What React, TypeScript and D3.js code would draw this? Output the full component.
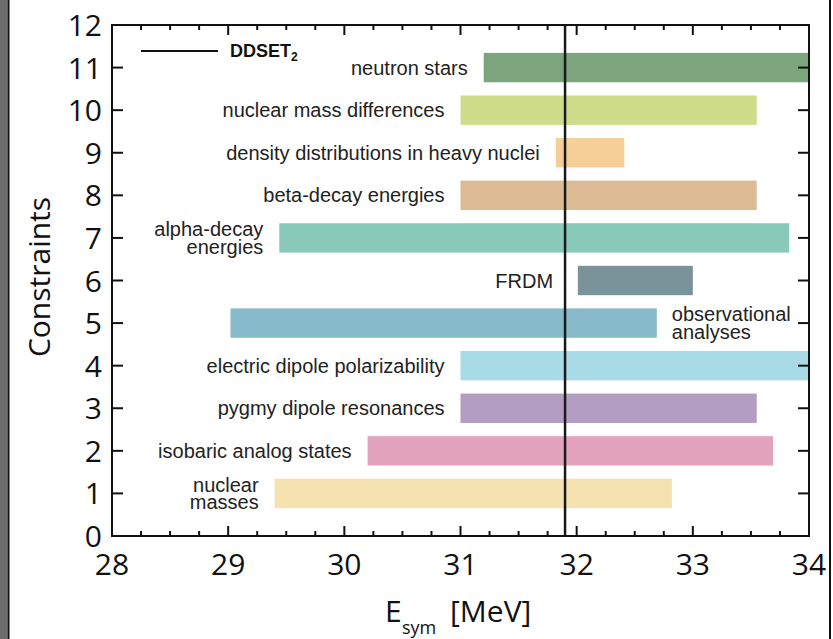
import React from "react";
import * as d3 from "d3";

const constraintNames = [
  ["nuclear", "masses"],
  ["isobaric analog states"],
  ["pygmy dipole resonances"],
  ["electric dipole polarizability"],
  ["observational", "analyses"],
  ["FRDM"],
  ["alpha-decay", "energies"],
  ["beta-decay energies"],
  ["density distributions in heavy nuclei"],
  ["nuclear mass differences"],
  ["neutron stars"],
];
const constraintLevels = [1, 2, 3, 4, 5, 6, 7, 8, 9, 10, 11];
const lowValues = [29.4, 30.2, 31.0, 31.0, 29.02, 32.01, 29.44, 31.0, 31.82, 31.0, 31.2];
const highValues = [32.82, 33.69, 33.55, 34.0, 32.69, 33.0, 33.83, 33.55, 32.41, 33.55, 34.0];
const barColors = [
  "#f5e2b1", "#e4a3bc", "#b39dc3", "#a9dbe6", "#88bbca", "#7a9398",
  "#89c9ba", "#dcba93", "#f5cf96", "#cfdd8a", "#7ca57d",
];
const labelRight = [false, false, false, false, true, false, false, false, false, false, false];
const xTickValues = [28, 29, 30, 31, 32, 33, 34];
const yTickValues = [0, 1, 2, 3, 4, 5, 6, 7, 8, 9, 10, 11, 12];
const ddsetValue = 31.9;

export default function App() {
  const W = 833, H = 639;
  const x = d3.scaleLinear().domain([28, 34]).range([112, 809]);
  const y = d3.scaleLinear().domain([0, 12]).range([536, 25]);
  const minor = d3.range(28, 34.001, 0.25).filter((v) => Math.abs(v - Math.round(v)) > 1e-6);
  const barH = Math.abs(y(0.69) - y(0));
  const tickFont = "'Open Sans', 'Noto Sans', sans-serif";
  const labFont = "'Liberation Sans', Arial, sans-serif";
  const fs = 20;

  return (
    <svg width={W} height={H} style={{ position: "absolute", left: 0, top: 0, background: "#fff" }}>
      <rect x={0} y={0} width={W} height={H} fill="#fff" />
      <rect x={0} y={0} width={7.5} height={H} fill="#6c6c6c" />
      <line x1={8.5} x2={8.5} y1={0} y2={H} stroke="#111" strokeWidth={2} />
      <line x1={830} x2={830} y1={0} y2={H} stroke="#111" strokeWidth={2} />

      {constraintLevels.map((lv, i) => {
        const x0 = x(lowValues[i]);
        const x1 = x(highValues[i]);
        return (
          <rect key={"b" + i} x={x0} y={y(lv) - barH / 2} width={x1 - x0} height={barH} fill={barColors[i]} />
        );
      })}

      {constraintLevels.map((lv, i) => {
        const lines = constraintNames[i];
        const right = labelRight[i];
        let tx = right ? x(highValues[i]) + 15 : x(lowValues[i]) - 16;
        if (lines[0] === "FRDM") tx = x(ddsetValue) - 12;
        const lh = 17.5;
        const cy = y(lv);
        return lines.map((s, j) => (
          <text key={"l" + i + "_" + j} x={tx} y={cy + 7 + (j - (lines.length - 1) / 2) * lh}
            fontFamily={labFont} fontSize={fs} fill="#222" textAnchor={right ? "start" : "end"}>
            {s}
          </text>
        ));
      })}

      <line x1={x(ddsetValue)} x2={x(ddsetValue)} y1={y(12)} y2={y(0)} stroke="#1a1a1a" strokeWidth={2.5} />

      {/* frame */}
      <rect x={x(28)} y={y(12)} width={x(34) - x(28)} height={y(0) - y(12)} fill="none" stroke="#111" strokeWidth={2} />

      {/* x ticks */}
      {xTickValues.map((v) => (
        <g key={"xt" + v}>
          <line x1={x(v)} x2={x(v)} y1={y(0)} y2={y(0) - 10} stroke="#111" strokeWidth={2} />
          <line x1={x(v)} x2={x(v)} y1={y(12)} y2={y(12) + 10} stroke="#111" strokeWidth={2} />
          <text x={x(v)} y={575} textAnchor="middle" fontFamily={tickFont} fontSize={30} fill="#111">{v}</text>
        </g>
      ))}
      {minor.map((v) => (
        <g key={"xm" + v}>
          <line x1={x(v)} x2={x(v)} y1={y(0)} y2={y(0) - 5} stroke="#111" strokeWidth={2} />
          <line x1={x(v)} x2={x(v)} y1={y(12)} y2={y(12) + 5} stroke="#111" strokeWidth={2} />
        </g>
      ))}

      {/* y ticks */}
      {yTickValues.map((v) => (
        <g key={"yt" + v}>
          <line x1={x(28)} x2={x(28) + 11} y1={y(v)} y2={y(v)} stroke="#111" strokeWidth={2} />
          <line x1={x(34)} x2={x(34) - 11} y1={y(v)} y2={y(v)} stroke="#111" strokeWidth={2} />
          <text x={102} y={y(v) + 11} textAnchor="end" fontFamily={tickFont} fontSize={30} fill="#111">{v}</text>
        </g>
      ))}

      {/* axis titles */}
      <text transform={`translate(50, 277) rotate(-90)`} textAnchor="middle" fontFamily={tickFont} fontSize={30} fill="#111">Constraints</text>
      <text x={385} y={622} fontFamily={tickFont} fontSize={30} fill="#111">E</text>
      <text x={402} y={634} fontFamily={tickFont} fontSize={18} fill="#111">sym</text>
      <text x={450} y={622} fontFamily={tickFont} fontSize={30} fill="#111">[MeV]</text>

      {/* legend */}
      <line x1={141} x2={218} y1={51} y2={51} stroke="#111" strokeWidth={2} />
      <text x={230} y={57} fontFamily={labFont} fontWeight="bold" fontSize={18} fill="#111">
        DDSET<tspan fontSize={12} dy={4}>2</tspan>
      </text>
    </svg>
  );
}
